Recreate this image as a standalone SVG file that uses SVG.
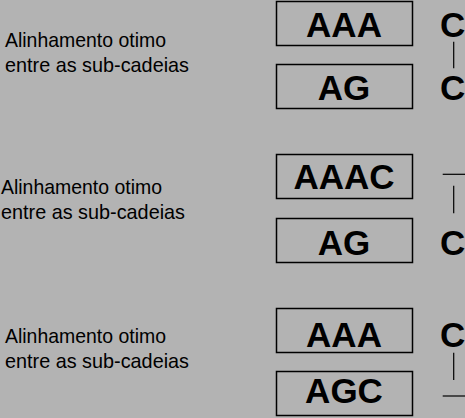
<svg xmlns="http://www.w3.org/2000/svg" width="465" height="418" viewBox="0 0 465 418">
<style>
.bg{fill:#b3b3b3}
.box{fill:none;stroke:#000;stroke-width:1.5}
.big{font-family:"Liberation Sans",Arial,sans-serif;font-weight:bold;font-size:35px;fill:#000}
.mid{text-anchor:middle}
.lbl{font-family:"Liberation Sans",Arial,sans-serif;font-size:21px;fill:#000}
.ln{stroke:#000;stroke-width:1.2;fill:none}
</style>
<rect class="bg" x="0" y="0" width="465" height="418"/>
<g id="label1"><text class="lbl" x="5" y="46.5" textLength="161" lengthAdjust="spacingAndGlyphs">Alinhamento otimo</text><text class="lbl" x="5" y="71.5" textLength="184" lengthAdjust="spacingAndGlyphs">entre as sub-cadeias</text></g>
<g id="label2"><text class="lbl" x="1" y="194" textLength="161" lengthAdjust="spacingAndGlyphs">Alinhamento otimo</text><text class="lbl" x="1" y="219" textLength="184" lengthAdjust="spacingAndGlyphs">entre as sub-cadeias</text></g>
<g id="label3"><text class="lbl" x="5" y="343.3" textLength="161" lengthAdjust="spacingAndGlyphs">Alinhamento otimo</text><text class="lbl" x="5" y="368" textLength="184" lengthAdjust="spacingAndGlyphs">entre as sub-cadeias</text></g>
<g id="box1"><rect class="box" x="276.5" y="1.5" width="136" height="44"/><text class="big mid" x="344" y="36.7">AAA</text></g>
<g id="box2"><rect class="box" x="276.5" y="64.5" width="136" height="44"/><text class="big mid" x="344" y="100">AG</text></g>
<g id="box3"><rect class="box" x="276.5" y="154.5" width="136" height="44"/><text class="big mid" x="344" y="188.5">AAAC</text></g>
<g id="box4"><rect class="box" x="276.5" y="218.5" width="136" height="44"/><text class="big mid" x="344" y="255">AG</text></g>
<g id="box5"><rect class="box" x="276.5" y="308.5" width="136" height="44"/><text class="big mid" x="344" y="346.7">AAA</text></g>
<g id="box6"><rect class="box" x="276.5" y="371.5" width="136" height="44"/><text class="big mid" x="344" y="403.3">AGC</text></g>
<g id="col1"><text class="big" x="440" y="36.7">C</text><text class="big" x="440" y="100">C</text></g>
<g id="col2"><text class="big" x="440" y="255">C</text></g>
<g id="col3"><text class="big" x="440" y="346.7">C</text></g>
<g id="connectors">
<line class="ln" x1="453.7" y1="41.7" x2="453.7" y2="68.3"/>
<line class="ln" x1="442.7" y1="174.3" x2="465" y2="174.3"/>
<line class="ln" x1="453.7" y1="185.7" x2="453.7" y2="213.3"/>
<line class="ln" x1="453.7" y1="352.7" x2="453.7" y2="380"/>
<line class="ln" x1="442.7" y1="396" x2="465" y2="396"/>
</g>
</svg>
